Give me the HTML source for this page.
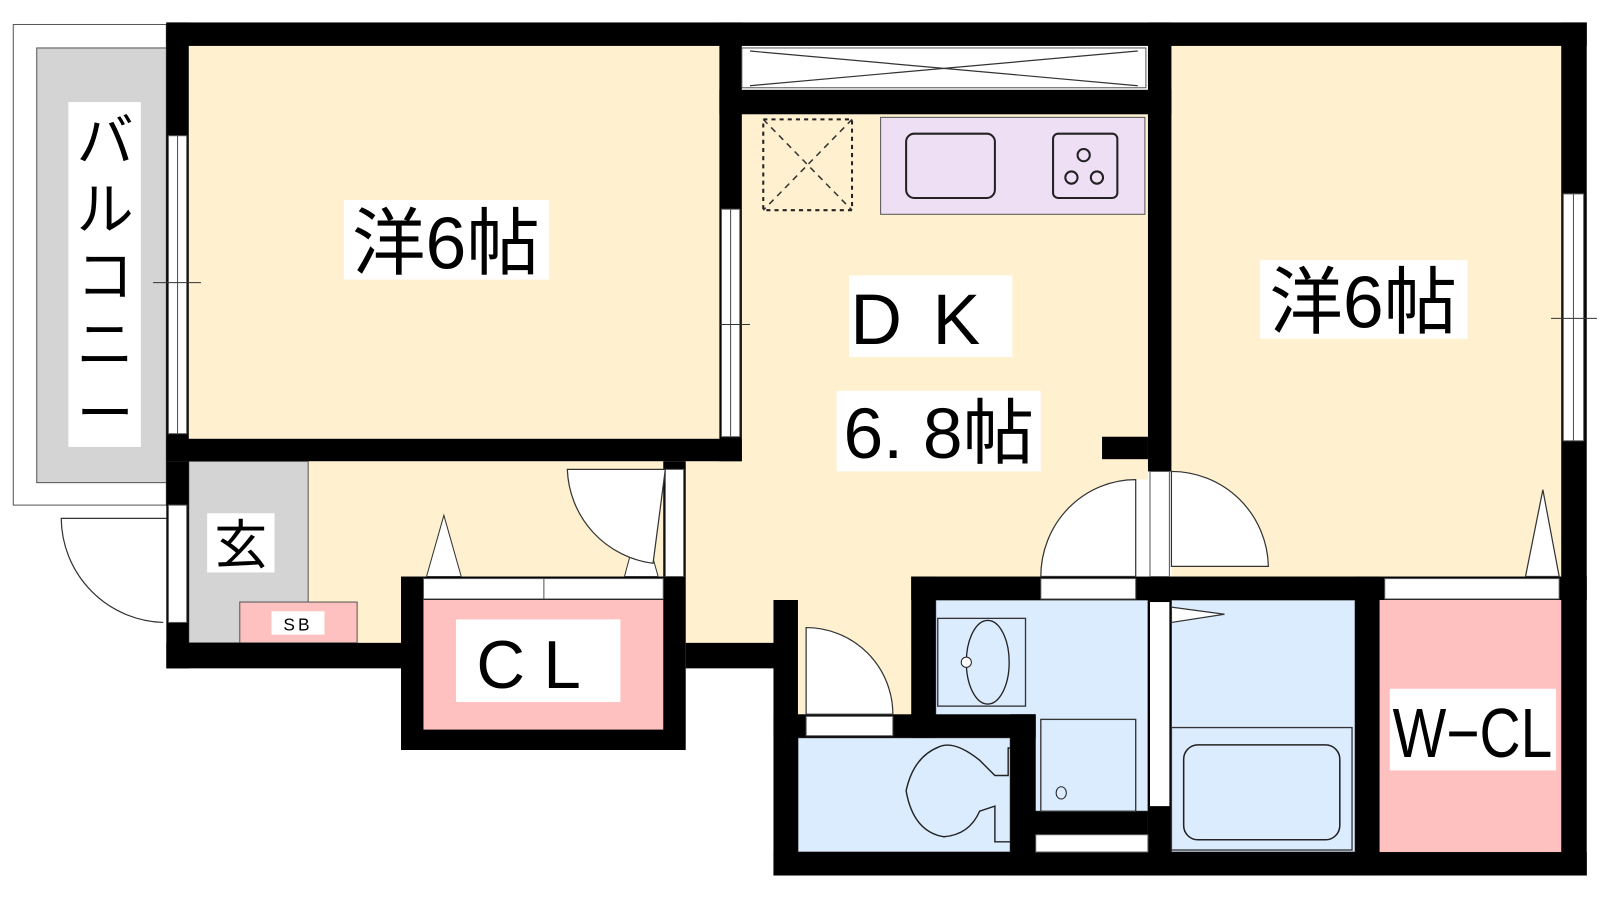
<!DOCTYPE html>
<html><head><meta charset="utf-8"><style>
html,body{margin:0;padding:0;background:#fff;width:1600px;height:900px;overflow:hidden}
svg{display:block}
text{font-family:"Liberation Sans","Noto Sans CJK JP",sans-serif;fill:#000}
</style></head><body>
<svg width="1600" height="900" viewBox="0 0 1568 882" preserveAspectRatio="none" xmlns="http://www.w3.org/2000/svg">
<rect width="1568" height="882" fill="#fff"/>
<!-- balcony -->
<rect x="13" y="24" width="150" height="471" fill="#fff" stroke="#555" stroke-width="1"/>
<rect x="36" y="47" width="127" height="426" fill="#d4d4d4" stroke="#555" stroke-width="1"/>
<rect x="67" y="100" width="71" height="338" fill="#fff"/>
<g font-size="56" text-anchor="middle">
<text x="103" y="158">バ</text>
<text x="103" y="225">ル</text>
<text x="103" y="290">コ</text>
<text x="103" y="357">ニ</text>
<text x="103" y="425">ー</text>
</g>
<!-- cream floors -->
<g fill="#fff1d0">
<rect x="185" y="45" width="520" height="385"/>
<rect x="727" y="112" width="398" height="520"/>
<rect x="302" y="452" width="425" height="180"/>
<rect x="782" y="620" width="111" height="82"/>
<rect x="1148" y="45" width="382" height="520"/>
</g>
<!-- genkan -->
<rect x="185" y="452" width="117" height="178" fill="#d4d4d4" stroke="#555" stroke-width="1"/>
<rect x="235" y="590" width="115" height="40" fill="#ffc0c0" stroke="#555" stroke-width="1"/>
<rect x="266" y="599" width="52" height="23" fill="#fff"/>
<text x="292" y="618" font-size="17" text-anchor="middle" letter-spacing="3">SB</text>
<rect x="203" y="503" width="66" height="58" fill="#fff"/>
<text x="236" y="552" font-size="52" text-anchor="middle">玄</text>
<!-- blue rooms -->
<g fill="#dcecff" stroke="#555" stroke-width="1">
<rect x="917" y="588" width="208" height="207"/>
<rect x="782" y="723" width="208" height="112"/>
<rect x="1148" y="588" width="180" height="247"/>
</g>
<rect x="1352" y="588" width="178" height="247" fill="#ffc0c0"/>
<!-- CL -->
<rect x="393" y="565" width="279" height="170" fill="#000"/>
<rect x="415" y="588" width="235" height="127" fill="#ffc0c0"/>
<rect x="415" y="567" width="235" height="20" fill="#fff" stroke="#555" stroke-width="1"/>
<line x1="533" y1="567" x2="533" y2="587" stroke="#555"/>
<path d="M418 565 L435 505 L452 565 Z M612 565 L628 505 L645 565 Z" fill="#fff" stroke="#333" stroke-width="1"/>
<rect x="447" y="607" width="161" height="81" fill="#fff"/>
<text x="527" y="674" font-size="66" text-anchor="middle" letter-spacing="18">CL</text>
<!-- walls -->
<g fill="#000">
<rect x="163" y="22" width="1392" height="23"/>
<rect x="163" y="22" width="22" height="430"/>
<rect x="163" y="430" width="564" height="22"/>
<rect x="705" y="22" width="22" height="430"/>
<rect x="705" y="88" width="443" height="24"/>
<rect x="1125" y="22" width="23" height="440"/>
<rect x="1080" y="428" width="45" height="22"/>
<rect x="1530" y="22" width="25" height="836"/>
<rect x="893" y="565" width="662" height="23"/>
<rect x="893" y="565" width="24" height="158"/>
<rect x="1125" y="565" width="23" height="293"/>
<rect x="1328" y="565" width="24" height="293"/>
<rect x="758" y="835" width="797" height="23"/>
<rect x="758" y="588" width="24" height="270"/>
<rect x="758" y="700" width="257" height="23"/>
<rect x="990" y="700" width="25" height="158"/>
<rect x="1005" y="795" width="120" height="23"/>
<rect x="163" y="452" width="22" height="203"/>
<rect x="163" y="630" width="240" height="25"/>
<rect x="650" y="452" width="22" height="113"/>
<rect x="672" y="630" width="88" height="25"/>
</g>
<!-- windows / openings -->
<g fill="#fff" stroke="#555" stroke-width="1">
<rect x="165" y="133" width="9" height="292"/><rect x="174" y="133" width="9" height="292"/>
<rect x="707" y="205" width="9" height="223"/><rect x="716" y="205" width="9" height="223"/>
<rect x="1532" y="190" width="10" height="242"/><rect x="1542" y="190" width="10" height="242"/>
<rect x="727" y="47" width="396" height="39"/>
<rect x="652" y="460" width="18" height="105"/>
<rect x="1127" y="462" width="19" height="103"/>
<rect x="1113" y="470" width="12" height="95" stroke="none"/>
<rect x="1020" y="567" width="93" height="20"/>
<rect x="1357" y="567" width="171" height="20"/>
<rect x="1127" y="590" width="19" height="200" stroke="none"/>
<rect x="790" y="702" width="85" height="19"/>
<rect x="1015" y="818" width="110" height="17"/>
<rect x="165" y="495" width="18" height="115"/>
</g>
<line x1="150" y1="277" x2="197" y2="277" stroke="#333"/>
<line x1="705" y1="318" x2="735" y2="318" stroke="#333"/>
<line x1="1520" y1="312" x2="1565" y2="312" stroke="#333"/>
<path d="M735 50 L925 67 L1115 50 M735 84 L925 67 L1115 84" fill="none" stroke="#333" stroke-width="1.2"/>
<!-- door swings -->
<g fill="#fff" stroke="#333" stroke-width="1.2">
<path d="M652 460 L556 460 A96 96 0 0 0 640 552 Z"/>
<path d="M1148 462 L1148 555 L1243 555 A95 95 0 0 0 1148 462 Z"/>
<path d="M1113 470 L1113 565 L1020 565 A93 95 0 0 1 1113 470 Z"/>
<path d="M790 615 L790 700 L875 700 A85 85 0 0 0 790 615 Z"/>
<path d="M1148 595 L1200 602 L1148 610 Z"/>
<path d="M1495 565 L1512 480 L1528 565 Z"/>
</g>
<path d="M163 508 L60 508 A103 103 0 0 0 160 610" fill="none" stroke="#333" stroke-width="1.2"/>
<!-- kitchen -->
<rect x="748" y="117" width="87" height="89" fill="none" stroke="#222" stroke-width="2" stroke-dasharray="4 4"/>
<path d="M748 117 L835 206 M835 117 L748 206" stroke="#333" stroke-dasharray="6 5" stroke-width="1.5"/>
<rect x="863" y="115" width="259" height="95" fill="#efdff5" stroke="#555"/>
<rect x="888" y="131" width="87" height="63" rx="8" fill="none" stroke="#222" stroke-width="2"/>
<rect x="1032" y="131" width="63" height="63" rx="5" fill="none" stroke="#222" stroke-width="2"/>
<g fill="none" stroke="#222" stroke-width="2"><circle cx="1062" cy="152" r="6"/><circle cx="1050" cy="174" r="6"/><circle cx="1075" cy="174" r="6"/></g>
<!-- washroom fixtures -->
<rect x="919" y="606" width="86" height="86" fill="none" stroke="#333" stroke-width="1.3"/>
<ellipse cx="968" cy="649" rx="21" ry="41" fill="none" stroke="#222" stroke-width="1.3"/>
<circle cx="947" cy="649" r="5" fill="#fff" stroke="#222"/>
<rect x="1020" y="705" width="93" height="90" fill="none" stroke="#333" stroke-width="1.3"/>
<ellipse cx="1040" cy="777" rx="5" ry="6" fill="none" stroke="#222"/>
<!-- toilet -->
<path d="M990 733 L988 733 L988 760 L975 760 L960 745 Q935 725 920 732 Q895 742 888 775 Q895 815 925 820 Q950 818 960 795 L975 790 L975 825 L990 825" fill="none" stroke="#222" stroke-width="1.4"/>
<!-- bath -->
<rect x="1148" y="713" width="177" height="120" fill="none" stroke="#333" stroke-width="1.3"/>
<rect x="1160" y="730" width="153" height="93" rx="14" fill="none" stroke="#222" stroke-width="1.5"/>
<!-- labels -->
<rect x="337" y="196" width="201" height="78" fill="#fff"/>
<text x="437" y="263" font-size="72" text-anchor="middle">洋6帖</text>
<rect x="1235" y="255" width="203" height="77" fill="#fff"/>
<text x="1336" y="321" font-size="72" text-anchor="middle">洋6帖</text>
<rect x="832" y="270" width="160" height="80" fill="#fff"/>
<text x="912" y="337" font-size="70" text-anchor="middle" letter-spacing="30">DK</text>
<rect x="820" y="383" width="200" height="79" fill="#fff"/>
<text x="920" y="449" font-size="70" text-anchor="middle">6. 8帖</text>
<rect x="1362" y="675" width="163" height="80" fill="#fff"/>
<text x="1443" y="742" font-size="68" text-anchor="middle" transform="translate(1443 0) scale(0.82 1) translate(-1443 0)">W−CL</text>
</svg>
</body></html>
